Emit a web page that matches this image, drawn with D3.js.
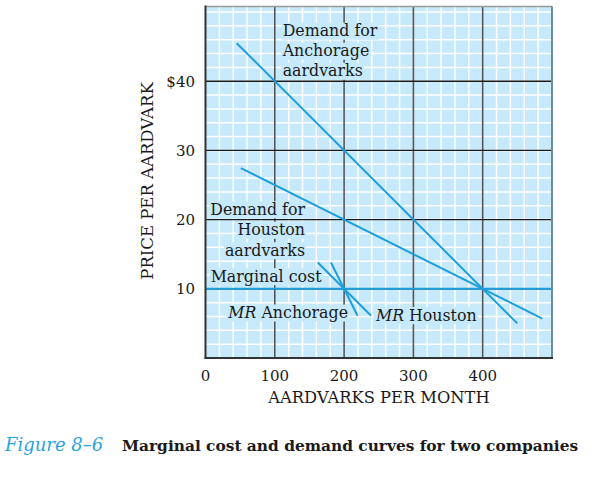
<!DOCTYPE html>
<html><head><meta charset="utf-8">
<script src="https://cdn.jsdelivr.net/npm/d3@7"></script>
<style>
body{margin:0;background:#fff;}
text{font-family:"DejaVu Serif",serif;}
</style></head>
<body><svg id="c" width="592" height="495"></svg>
<script>
// ---- data ----
const xTicks = [0, 100, 200, 300, 400];
const yTicks = [10, 20, 30, 40];
const yTickLabels = ["10", "20", "30", "$40"];
const demandAnchorage = [[45, 45.5], [450, 5]];
const demandHouston = [[51, 27.45], [486, 5.7]];
const marginalCost = [[0, 10], [500, 10]];
const mrAnchorage = [[181, 13.8], [219.5, 6.1]];
const mrHouston = [[162, 13.8], [239, 6.1]];
const labelAnchorage = ["Demand for", "Anchorage", "aardvarks"];
const labelHouston = ["Demand for", "Houston", "aardvarks"];

const svg = d3.select("#c");
const x = d3.scaleLinear().domain([0, 500]).range([205.5, 552]);
const y = d3.scaleLinear().domain([0, 50.8]).range([358, 6.5]);
const BG = "#c6e9fb", LINE = "#1d9fde";

// background
svg.append("rect").attr("x", x(0)).attr("y", y(50.8)).attr("width", x(500) - x(0)).attr("height", y(0) - y(50.8)).attr("fill", BG);
// minor grid
const gx = d3.range(20, 500, 20), gy = d3.range(2, 50.8, 2);
svg.append("g").selectAll("line").data(gx).join("line")
  .attr("x1", d => x(d)).attr("x2", d => x(d)).attr("y1", y(0)).attr("y2", y(50.8))
  .attr("stroke", "#fff").attr("stroke-width", 1.5);
svg.append("g").selectAll("line").data(gy).join("line")
  .attr("y1", d => y(d)).attr("y2", d => y(d)).attr("x1", x(0)).attr("x2", x(500))
  .attr("stroke", "#fff").attr("stroke-width", 1.5);
// major grid
svg.append("g").selectAll("line").data([100, 200, 300, 400]).join("line")
  .attr("x1", d => x(d)).attr("x2", d => x(d)).attr("y1", y(0)).attr("y2", y(50.8))
  .attr("stroke", "#555").attr("stroke-width", 1.6);
svg.append("g").selectAll("line").data(yTicks).join("line")
  .attr("y1", d => y(d)).attr("y2", d => y(d)).attr("x1", x(0)).attr("x2", x(500))
  .attr("stroke", "#1a1a1a").attr("stroke-width", 1.3);

// annotation text with background boxes
const ann = svg.append("g");
function label(lines, qx, py, anchor, step) {
  lines.forEach((t, i) => {
    const g = ann.append("g");
    const tx = g.append("text").attr("x", x(qx)).attr("y", y(py) + i * step)
      .attr("text-anchor", anchor).attr("font-size", 15.8).attr("fill", "#1a1a1a");
    if (Array.isArray(t)) {
      tx.append("tspan").attr("font-style", "italic").text(t[0]);
      tx.append("tspan").text(t[1]);
    } else tx.text(t);
    const b = tx.node().getBBox();
    g.insert("rect", "text").attr("x", b.x - 1).attr("y", b.y + 1.5).attr("width", b.width + 2).attr("height", b.height - 2).attr("fill", BG);
  });
}
label(labelAnchorage, 111.4, 46.5, "start", 20);
label(labelHouston, 143.6, 20.7, "end", 20.5);
label(["Marginal cost"], 7.5, 11.03, "start", 0);
label([["MR", " Anchorage"]], 33, 5.78, "start", 0);
label([["MR", " Houston"]], 391.3, 5.4, "end", 0);

// curves
const line = d3.line().x(d => x(d[0])).y(d => y(d[1]));
[demandAnchorage, demandHouston, marginalCost, mrAnchorage, mrHouston].forEach(s => {
  svg.append("path").attr("d", line(s)).attr("fill", "none").attr("stroke", LINE).attr("stroke-width", 2);
});

// frame
svg.append("line").attr("x1", x(0)).attr("x2", x(500)).attr("y1", y(50.8)).attr("y2", y(50.8)).attr("stroke", "#999").attr("stroke-width", 1.5);
svg.append("line").attr("x1", x(500)).attr("x2", x(500)).attr("y1", y(50.8)).attr("y2", y(0)).attr("stroke", "#6f8b98").attr("stroke-width", 2);
svg.append("line").attr("x1", x(0)).attr("x2", x(0)).attr("y1", y(50.8) - 1).attr("y2", y(0) + 1).attr("stroke", "#333").attr("stroke-width", 2);
svg.append("line").attr("x1", x(0) - 1).attr("x2", x(500) + 1).attr("y1", y(0)).attr("y2", y(0)).attr("stroke", "#333").attr("stroke-width", 2);

// tick labels
svg.append("g").selectAll("text").data(xTicks).join("text")
  .attr("x", d => x(d)).attr("y", 381).attr("text-anchor", "middle").attr("font-size", 15).attr("fill", "#1a1a1a").text(d => d);
svg.append("g").selectAll("text").data(yTicks).join("text")
  .attr("x", 195).attr("y", d => y(d)).attr("dy", "0.36em").attr("text-anchor", "end").attr("font-size", 15).attr("fill", "#1a1a1a").text((d, i) => yTickLabels[i]);

// axis titles
svg.append("text").attr("x", 379).attr("y", 403).attr("text-anchor", "middle").attr("font-size", 16.3).attr("fill", "#1a1a1a").text("AARDVARKS PER MONTH");
svg.append("text").attr("transform", "translate(153,181) rotate(-90)").attr("text-anchor", "middle").attr("font-size", 16.5).attr("fill", "#1a1a1a").text("PRICE PER AARDVARK");

// caption
svg.append("text").attr("x", 5).attr("y", 451).attr("font-size", 18).attr("font-style", "italic").attr("fill", "#2aa3e2").text("Figure 8–6");
svg.append("text").attr("x", 122).attr("y", 451).attr("font-size", 15.4).attr("font-weight", "bold").attr("fill", "#1a1a1a").text("Marginal cost and demand curves for two companies");
</script></body></html>
